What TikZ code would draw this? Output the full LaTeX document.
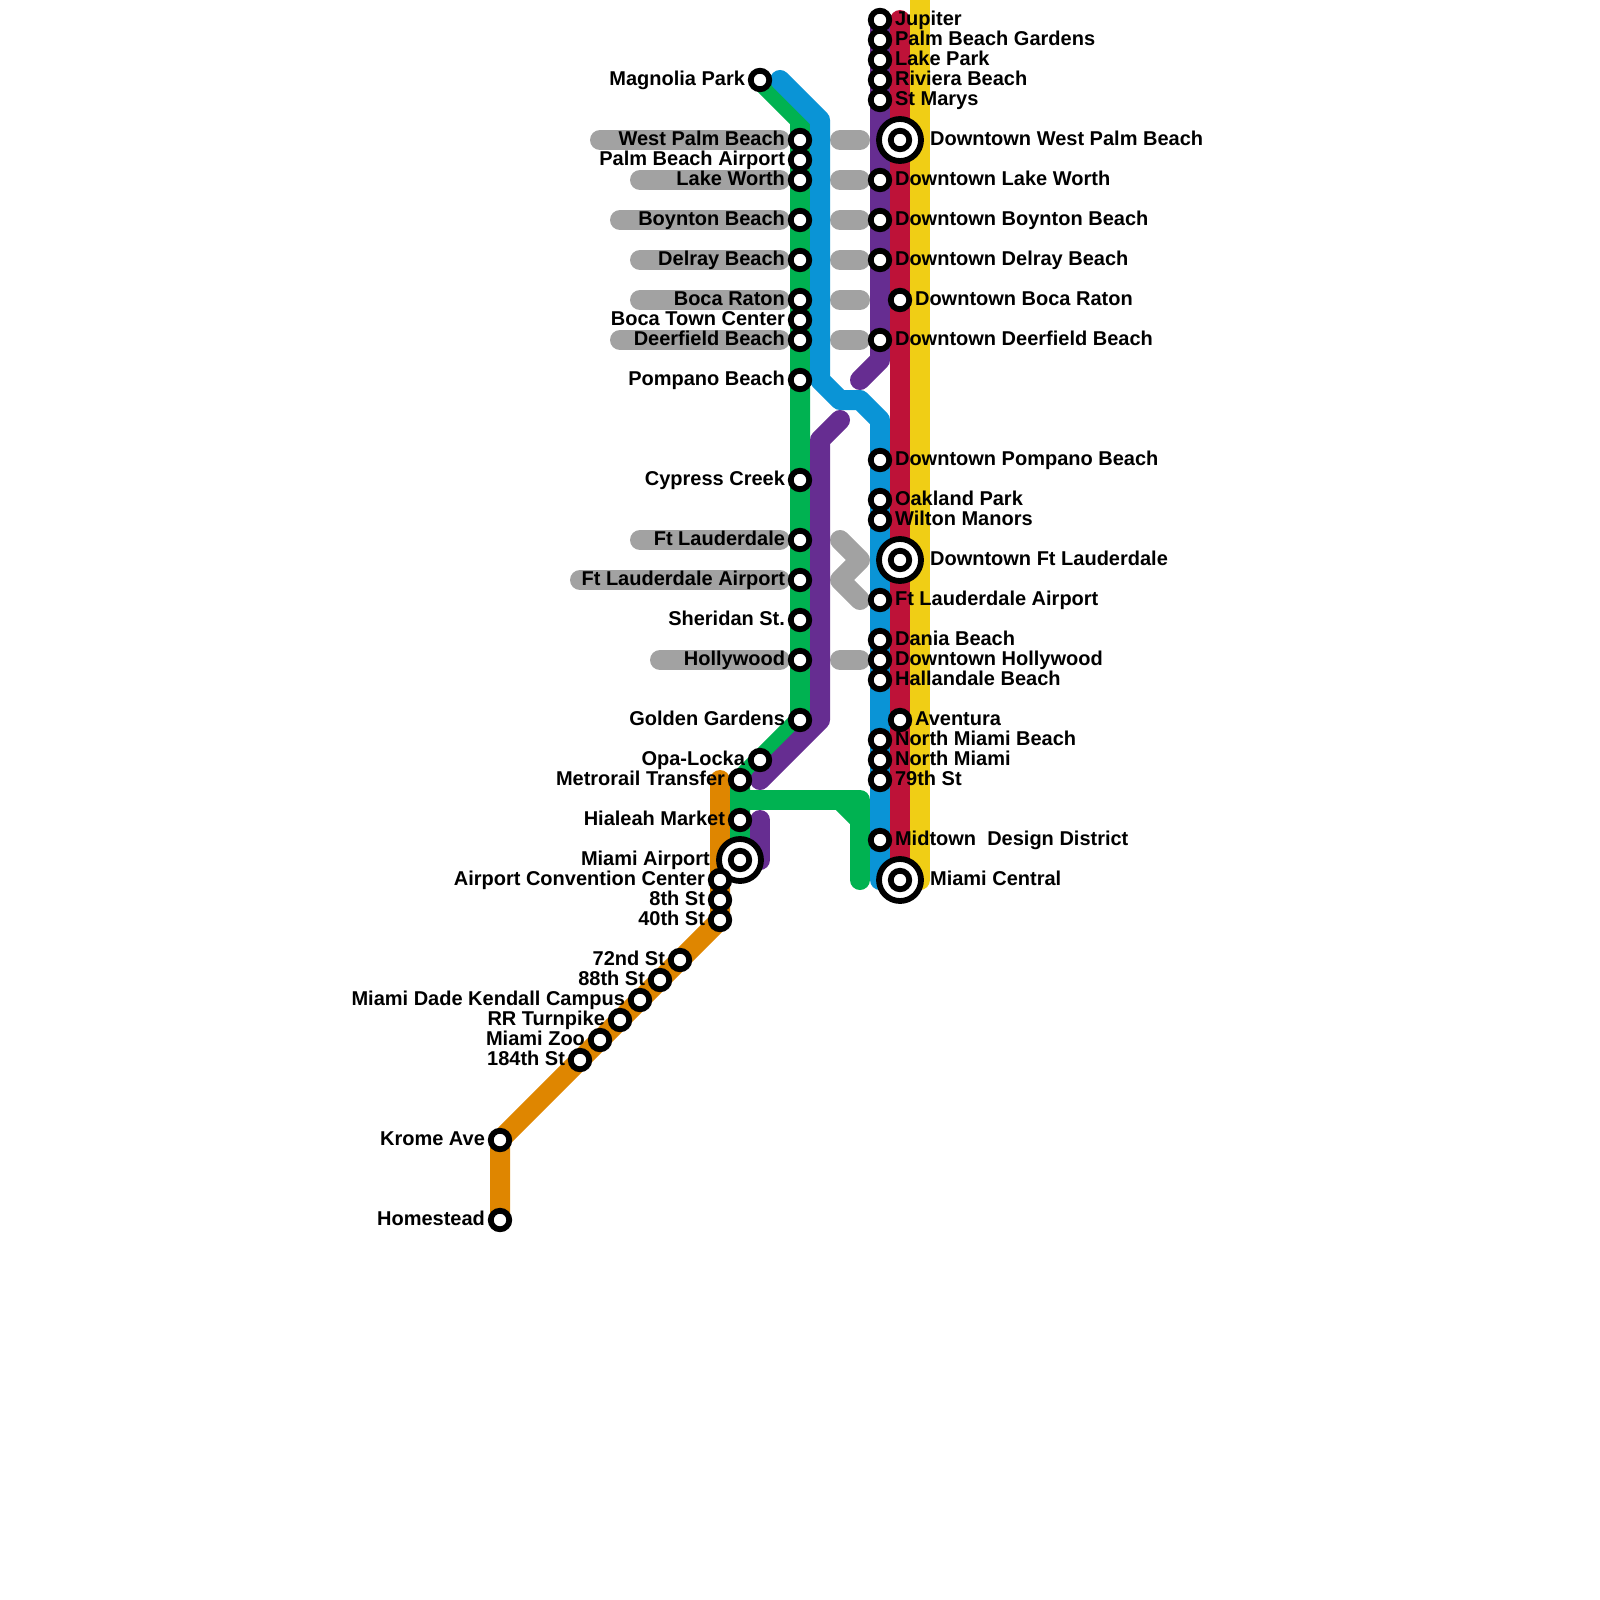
\documentclass[tikz,border=0pt]{standalone}
\usepackage{fontspec}
\setmainfont{Liberation Sans}
\usepackage{xcolor}
\usepackage{tikz}
\definecolor{MGreen}{HTML}{00B251}
\definecolor{MBlue}{HTML}{0A94D6}
\definecolor{MPurple}{HTML}{662D91}
\definecolor{MRed}{HTML}{BE1238}
\definecolor{MYellow}{HTML}{F0CE15}
\definecolor{MOrange}{HTML}{DF8600}
\definecolor{MGray}{HTML}{A2A2A2}
\pgfdeclarelayer{lines}
\pgfsetlayers{lines,main}
\begin{document}
\begin{tikzpicture}[
  x=0.5pt,y=-0.5pt,
  every label/.style={font=\bfseries\fontsize{10}{10}\selectfont,inner sep=0pt,outer sep=0pt,
    text height=7pt,text depth=2pt,yshift=-0.2pt,label distance=1.45pt},
  stn/.style={circle,draw=black,fill=white,line width=2.9pt,inner sep=0pt,minimum size=9.25pt},
  hub/.style={stn,minimum size=21pt},
  hubtxt/.style={label distance=3.1pt},
  route/.style={line width=10pt,line cap=round,line join=round},
  xfer/.style={route,MGray},
  xferend/.style={xfer,shorten >=10pt},
  xferhub/.style={xfer,shorten >=20pt}
]
\useasboundingbox (0,0) rectangle (1600,1600);
% west side
\node[stn,label=left:Magnolia Park] (magnolia) at (760,80) {};
\node[stn,label=left:West Palm Beach] (wpb) at (800,140) {};
\node[stn,label=left:Palm Beach Airport] (pbi) at (800,160) {};
\node[stn,label=left:Lake Worth] (lakew) at (800,180) {};
\node[stn,label=left:Boynton Beach] (boynton) at (800,220) {};
\node[stn,label=left:Delray Beach] (delray) at (800,260) {};
\node[stn,label=left:Boca Raton] (boca) at (800,300) {};
\node[stn,label=left:Boca Town Center] (bocatc) at (800,320) {};
\node[stn,label=left:Deerfield Beach] (deerfield) at (800,340) {};
\node[stn,label=left:Pompano Beach] (pompano) at (800,380) {};
\node[stn,label=left:Cypress Creek] (cypress) at (800,480) {};
\node[stn,label=left:Ft Lauderdale] (ftl) at (800,540) {};
\node[stn,label=left:Ft Lauderdale Airport] (ftlair) at (800,580) {};
\node[stn,label=left:Sheridan St.] (sheridan) at (800,620) {};
\node[stn,label=left:Hollywood] (hollywood) at (800,660) {};
\node[stn,label=left:Golden Gardens] (golden) at (800,720) {};
\node[stn,label=left:Opa-Locka] (opa) at (760,760) {};
\node[stn,label=left:Metrorail Transfer] (metrorail) at (740,780) {};
\node[stn,label=left:Hialeah Market] (hialeah) at (740,820) {};
\node[hub,label={[hubtxt]left:Miami Airport}] (mia) at (740,860) {};
\node[stn] (miain) at (mia) {};
% south end
\node[stn,label=left:Airport Convention Center] (conv) at (720,880) {};
\node[stn,label=left:8th St] (st8) at (720,900) {};
\node[stn,label=left:40th St] (st40) at (720,920) {};
\node[stn,label=left:72nd St] (st72) at (680,960) {};
\node[stn,label=left:88th St] (st88) at (660,980) {};
\node[stn,label=left:Miami Dade Kendall Campus] (kendall) at (640,1000) {};
\node[stn,label=left:RR Turnpike] (turnpike) at (620,1020) {};
\node[stn,label=left:Miami Zoo] (zoo) at (600,1040) {};
\node[stn,label=left:184th St] (st184) at (580,1060) {};
\node[stn,label=left:Krome Ave] (krome) at (500,1140) {};
\node[stn,label=left:Homestead] (homestead) at (500,1220) {};
% east side
\node[stn,label=right:Jupiter] (jupiter) at (880,20) {};
\node[stn,label=right:Palm Beach Gardens] (pbg) at (880,40) {};
\node[stn,label=right:Lake Park] (lakep) at (880,60) {};
\node[stn,label=right:Riviera Beach] (riviera) at (880,80) {};
\node[stn,label=right:St Marys] (stmarys) at (880,100) {};
\node[hub,label={[hubtxt]right:Downtown West Palm Beach}] (dwpb) at (900,140) {};
\node[stn] (dwpbin) at (dwpb) {};
\node[stn,label=right:Downtown Lake Worth] (dlakew) at (880,180) {};
\node[stn,label=right:Downtown Boynton Beach] (dboynton) at (880,220) {};
\node[stn,label=right:Downtown Delray Beach] (ddelray) at (880,260) {};
\node[stn,label=right:Downtown Boca Raton] (dboca) at (900,300) {};
\node[stn,label=right:Downtown Deerfield Beach] (ddeerfield) at (880,340) {};
\node[stn,label=right:Downtown Pompano Beach] (dpompano) at (880,460) {};
\node[stn,label=right:Oakland Park] (oakland) at (880,500) {};
\node[stn,label=right:Wilton Manors] (wilton) at (880,520) {};
\node[hub,label={[hubtxt]right:Downtown Ft Lauderdale}] (dftl) at (900,560) {};
\node[stn] (dftlin) at (dftl) {};
\node[stn,label=right:Ft Lauderdale Airport] (ftlaire) at (880,600) {};
\node[stn,label=right:Dania Beach] (dania) at (880,640) {};
\node[stn,label=right:Downtown Hollywood] (dhollywood) at (880,660) {};
\node[stn,label=right:Hallandale Beach] (hallandale) at (880,680) {};
\node[stn,label=right:Aventura] (aventura) at (900,720) {};
\node[stn,label=right:North Miami Beach] (nmb) at (880,740) {};
\node[stn,label=right:North Miami] (nmiami) at (880,760) {};
\node[stn,label=right:79th St] (st79) at (880,780) {};
\node[stn,label=right:{Midtown\ \ Design District}] (midtown) at (880,840) {};
\node[hub,label={[hubtxt]right:Miami Central}] (central) at (900,880) {};
\node[stn] (centralin) at (central) {};
% bends and free ends
\coordinate (gbend) at (800,120);
\coordinate (gturn) at (860,800);
\coordinate (gjoin) at (740,800);
\coordinate (gcutA) at (840,800);
\coordinate (gcutB) at (860,820);
\coordinate (gend) at (860,880);
\coordinate (bstart) at (780,80);
\coordinate (bA) at (820,120);
\coordinate (bB) at (820,380);
\coordinate (bC) at (840,400);
\coordinate (bD) at (860,400);
\coordinate (bE) at (880,420);
\coordinate (bend) at (880,880);
\coordinate (pA) at (860,380);
\coordinate (pB) at (880,360);
\coordinate (pC) at (840,420);
\coordinate (pD) at (820,440);
\coordinate (pE) at (820,720);
\coordinate (pF) at (760,780);
\coordinate (pG) at (760,820);
\coordinate (pH) at (760,860);
\coordinate (rtop) at (900,20);
\coordinate (ytop) at (920,-20);
\coordinate (yend) at (920,880);
\coordinate (otop) at (720,780);
\coordinate (xA) at (840,540);
\coordinate (xB) at (860,560);
\coordinate (xC) at (840,580);
\coordinate (xD) at (860,600);
\coordinate (wpbL) at (600,140);
\coordinate (lakewL) at (640,180);
\coordinate (boyntonL) at (620,220);
\coordinate (delrayL) at (640,260);
\coordinate (bocaL) at (640,300);
\coordinate (deerfieldL) at (620,340);
\coordinate (ftlL) at (640,540);
\coordinate (ftlairL) at (580,580);
\coordinate (hollywoodL) at (660,660);
\coordinate (dwpbL) at (840,140);
\coordinate (dlakewL) at (840,180);
\coordinate (dboyntonL) at (840,220);
\coordinate (ddelrayL) at (840,260);
\coordinate (dbocaL) at (840,300);
\coordinate (ddeerfieldL) at (840,340);
\coordinate (dhollywoodL) at (840,660);
\begin{pgfonlayer}{lines}
% transfers
\draw[xferend] (wpbL) -- (wpb.center); \draw[xferend] (lakewL) -- (lakew.center);
\draw[xferend] (boyntonL) -- (boynton.center); \draw[xferend] (delrayL) -- (delray.center);
\draw[xferend] (bocaL) -- (boca.center); \draw[xferend] (deerfieldL) -- (deerfield.center);
\draw[xferend] (ftlL) -- (ftl.center); \draw[xferend] (ftlairL) -- (ftlair.center);
\draw[xferend] (hollywoodL) -- (hollywood.center);
\draw[xferhub] (dwpbL) -- (dwpb.center); \draw[xferend] (dlakewL) -- (dlakew.center);
\draw[xferend] (dboyntonL) -- (dboynton.center); \draw[xferend] (ddelrayL) -- (ddelray.center);
\draw[xferhub] (dbocaL) -- (dboca.center); \draw[xferend] (ddeerfieldL) -- (ddeerfield.center);
\draw[xferend] (dhollywoodL) -- (dhollywood.center);
\draw[xfer] (xA) -- (xB) -- (xC) -- (xD);
% routes
\draw[route,MOrange] (otop) -- (st40.center) -- (krome.center) -- (homestead.center);
\draw[route,MGreen] (magnolia.center) -- (gbend) -- (golden.center) -- (metrorail.center) -- (mia.center);
\draw[route,MGreen] (gjoin) -- (gturn) -- (gend);
\draw[route,MGreen] (gcutA) -- (gcutB);
\draw[route,MBlue] (bstart) -- (bA) -- (bB) -- (bC) -- (bD) -- (bE) -- (bend);
\draw[route,MPurple] (jupiter.center) -- (pB) -- (pA);
\draw[route,MPurple] (pC) -- (pD) -- (pE) -- (pF);
\draw[route,MPurple] (pG) -- (pH);
\draw[route,MYellow] (ytop) -- (yend);
\draw[route,MRed] (rtop) -- (central.center);
\end{pgfonlayer}
\end{tikzpicture}
\end{document}
